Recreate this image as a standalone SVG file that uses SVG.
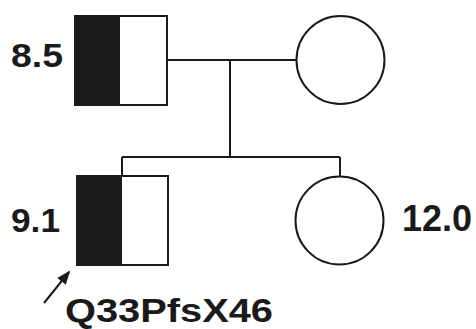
<svg xmlns="http://www.w3.org/2000/svg" width="476" height="329" viewBox="0 0 476 329">
  <style>
    .shape { fill: #fff; stroke: #1a1a1a; stroke-width: 2; }
    .half { fill: #1a1a1a; stroke: none; }
    .line { fill: none; stroke: #1a1a1a; stroke-width: 2; }
    .label { font-family: "Liberation Sans", Arial, sans-serif; font-weight: bold; fill: #1a1a1a; }
  </style>
  <defs>
    <marker id="arrowhead" markerWidth="7" markerHeight="5.5" refX="6" refY="2.75" orient="auto" markerUnits="strokeWidth">
      <path d="M0,0 L7,2.75 L0,5.5 Z" fill="#1a1a1a"/>
    </marker>
  </defs>

  <!-- connectors: mating line, descent line, sibship line and individual lines -->
  <g id="connectors">
    <line class="line" x1="167" y1="60" x2="296" y2="60"/>
    <line class="line" x1="230" y1="60" x2="230" y2="157"/>
    <line class="line" x1="122" y1="157" x2="340" y2="157"/>
    <line class="line" x1="122" y1="157" x2="122" y2="176"/>
    <line class="line" x1="340" y1="157" x2="340" y2="176"/>
  </g>

  <!-- father -->
  <g id="father">
    <rect class="shape" x="75" y="16" width="92" height="89"/>
    <rect class="half" x="75" y="16" width="45" height="89"/>
    <rect x="75" y="16" width="92" height="89" fill="none" stroke="#1a1a1a" stroke-width="2"/>
    <text class="label" x="11" y="67" font-size="34" textLength="52" lengthAdjust="spacingAndGlyphs">8.5</text>
  </g>

  <!-- mother -->
  <g id="mother">
    <circle class="shape" cx="340.5" cy="60" r="44"/>
  </g>

  <!-- proband son -->
  <g id="son">
    <rect class="shape" x="77" y="176" width="91" height="89"/>
    <rect class="half" x="77" y="176" width="45" height="89"/>
    <rect x="77" y="176" width="91" height="89" fill="none" stroke="#1a1a1a" stroke-width="2"/>
    <text class="label" x="11" y="232" font-size="34" textLength="49" lengthAdjust="spacingAndGlyphs">9.1</text>
    <line class="line" x1="44" y1="303" x2="69" y2="272" marker-end="url(#arrowhead)"/>
    <text class="label" x="65" y="322" font-size="34" textLength="208" lengthAdjust="spacingAndGlyphs">Q33PfsX46</text>
  </g>

  <!-- daughter -->
  <g id="daughter">
    <circle class="shape" cx="339.5" cy="220.5" r="44"/>
    <text class="label" x="402" y="231" font-size="36" textLength="70" lengthAdjust="spacingAndGlyphs">12.0</text>
  </g>
</svg>
